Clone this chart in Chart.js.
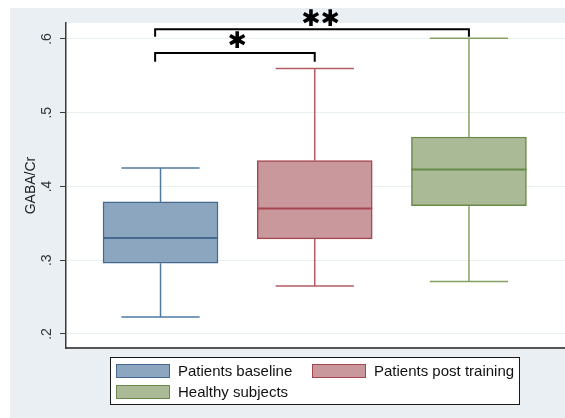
<!DOCTYPE html>
<html><head><meta charset="utf-8">
<script src="https://cdn.jsdelivr.net/npm/chart.js@4/dist/chart.umd.min.js"></script>
<style>html,body{margin:0;padding:0;background:#fff}#wrap{width:565px;height:418px}</style>
</head><body><div id="wrap"><canvas id="c" width="565" height="418"></canvas></div>
<script>
// ---- data ----
const groups = ['Patients baseline', 'Patients post training', 'Healthy subjects'];
const groupPos = [1, 2, 3];
const mins    = [0.223, 0.265, 0.271];
const q1s     = [0.296, 0.329, 0.374];
const medians = [0.330, 0.370, 0.423];
const q3s     = [0.379, 0.435, 0.467];
const maxs    = [0.425, 0.560, 0.601];
const yTicks  = [0.2, 0.3, 0.4, 0.5, 0.6];
const yTitle  = 'GABA/Cr';
// significance brackets (data units)
const bracketStart = [0.965, 0.965];
const bracketEnd   = [2, 3];
const bracketLevel = [0.581, 0.613];
const bracketLeg   = [0.569, 0.603];
const bracketLabel = ['\u2731', '\u2731\u2731'];
const bracketLabelX = [1.496, 2.037];
const bracketLabelY = [0.5963, 0.6257];

// ---- styles ----
const fills   = ['#8da6bf', '#c9989c', '#abba96'];
const borders = ['#45698f', '#a5474f', '#6a8a4a'];
const whisk   = ['#4f7aa2', '#b45b63', '#86a164'];
const FONT = "'Liberation Sans', Arial, sans-serif";

const bgPlugin = {
  id: 'bg',
  beforeDraw(chart) {
    const {ctx, chartArea: a} = chart;
    ctx.save();
    ctx.fillStyle = '#ffffff';
    ctx.fillRect(0, 0, chart.width, chart.height);
    ctx.fillStyle = '#e9eff2';
    ctx.fillRect(10, 8, chart.width - 10, chart.height - 8);
    ctx.fillStyle = '#ffffff';
    ctx.fillRect(a.left, a.top, a.right - a.left, a.bottom - a.top);
    ctx.restore();
  }
};

const boxPlugin = {
  id: 'box',
  afterDatasetsDraw(chart) {
    const {ctx} = chart;
    const xs = chart.scales.x, ys = chart.scales.y;
    const meta = chart.getDatasetMeta(0);
    ctx.save();
    groupPos.forEach((g, i) => {
      const bar = meta.data[i];
      const w = bar.width;
      const cx = xs.getPixelForValue(g);
      const cap = w * 0.68;
      ctx.strokeStyle = whisk[i];
      ctx.lineWidth = 1.5;
      const yMax = ys.getPixelForValue(maxs[i]);
      const yMin = ys.getPixelForValue(mins[i]);
      ctx.beginPath();
      ctx.moveTo(cx, ys.getPixelForValue(q3s[i]));
      ctx.lineTo(cx, yMax);
      ctx.moveTo(cx, ys.getPixelForValue(q1s[i]));
      ctx.lineTo(cx, yMin);
      ctx.moveTo(cx - cap / 2, yMax); ctx.lineTo(cx + cap / 2, yMax);
      ctx.moveTo(cx - cap / 2, yMin); ctx.lineTo(cx + cap / 2, yMin);
      ctx.stroke();
      ctx.strokeStyle = borders[i];
      ctx.lineWidth = 2;
      const ym = ys.getPixelForValue(medians[i]);
      ctx.beginPath();
      ctx.moveTo(cx - w / 2, ym); ctx.lineTo(cx + w / 2, ym);
      ctx.stroke();
    });
    ctx.restore();
  }
};

const annoPlugin = {
  id: 'anno',
  afterDraw(chart) {
    const {ctx} = chart;
    const xs = chart.scales.x, ys = chart.scales.y;
    ctx.save();
    ctx.strokeStyle = '#000';
    ctx.lineWidth = 2;
    bracketStart.forEach((s, i) => {
      const x1 = xs.getPixelForValue(s), x2 = xs.getPixelForValue(bracketEnd[i]);
      const y = ys.getPixelForValue(bracketLevel[i]), yl = ys.getPixelForValue(bracketLeg[i]);
      ctx.beginPath();
      ctx.moveTo(x1, yl); ctx.lineTo(x1, y); ctx.lineTo(x2, y); ctx.lineTo(x2, yl);
      ctx.stroke();
      ctx.fillStyle = '#000';
      ctx.font = "23px 'DejaVu Sans'";
      ctx.textAlign = 'center';
      ctx.textBaseline = 'middle';
      ctx.fillText(bracketLabel[i], xs.getPixelForValue(bracketLabelX[i]), ys.getPixelForValue(bracketLabelY[i]));
    });
    // legend
    const L = 110.5, T = 357.5, W = 409, H = 47;
    ctx.fillStyle = '#fff';
    ctx.fillRect(L, T, W, H);
    ctx.strokeStyle = '#1a1a1a';
    ctx.lineWidth = 1;
    ctx.strokeRect(L, T, W, H);
    const pos = [[116.5, 364.5], [312.5, 364.5], [116.5, 385.5]];
    ctx.font = '15px ' + FONT;
    ctx.textAlign = 'left';
    ctx.textBaseline = 'middle';
    groups.forEach((g, i) => {
      const [x, y] = pos[i];
      ctx.fillStyle = fills[i];
      ctx.fillRect(x, y, 53, 13);
      ctx.strokeStyle = borders[i];
      ctx.lineWidth = 1;
      ctx.strokeRect(x, y, 53, 13);
      ctx.fillStyle = '#111';
      ctx.fillText(g, x + 61.5, y + 7);
    });
    ctx.restore();
  }
};

new Chart(document.getElementById('c').getContext('2d'), {
  type: 'bar',
  data: {
    datasets: [{
      data: groupPos.map((x, i) => ({x: x, y: [q1s[i], q3s[i]]})),
      backgroundColor: fills,
      borderColor: borders,
      borderWidth: 1.5,
      borderSkipped: false,
      barThickness: 115
    }]
  },
  options: {
    responsive: false,
    animation: false,
    devicePixelRatio: 1,
    layout: {padding: {left: 10, top: 23, right: 0, bottom: 70}},
    plugins: {legend: {display: false}, tooltip: {enabled: false}},
    scales: {
      x: {
        type: 'linear', min: 0.387, max: 3.623, offset: false,
        ticks: {display: false},
        grid: {display: false, drawTicks: false},
        border: {display: true, color: '#555', width: 2},
        afterFit(s) { s.height = 0; }
      },
      y: {
        min: 0.181, max: 0.6216,
        afterBuildTicks(s) { s.ticks = yTicks.map(v => ({value: v})); },
        ticks: {
          minRotation: 90, maxRotation: 90, crossAlign: 'center', padding: 7,
          font: {family: FONT, size: 14}, color: '#333',
          callback: v => Number(v).toFixed(1).replace(/^0/, '')
        },
        grid: {color: '#e8f0f0', tickColor: '#3a3a3a', tickLength: 6, lineWidth: 1},
        border: {color: '#3a3a3a', width: 1.5},
        title: {display: true, text: yTitle, font: {family: FONT, size: 14}, color: '#222', padding: {top: 13, bottom: 0}},
        afterFit(s) { s.width = 56; }
      }
    }
  },
  plugins: [bgPlugin, boxPlugin, annoPlugin]
});
</script>
</body></html>
